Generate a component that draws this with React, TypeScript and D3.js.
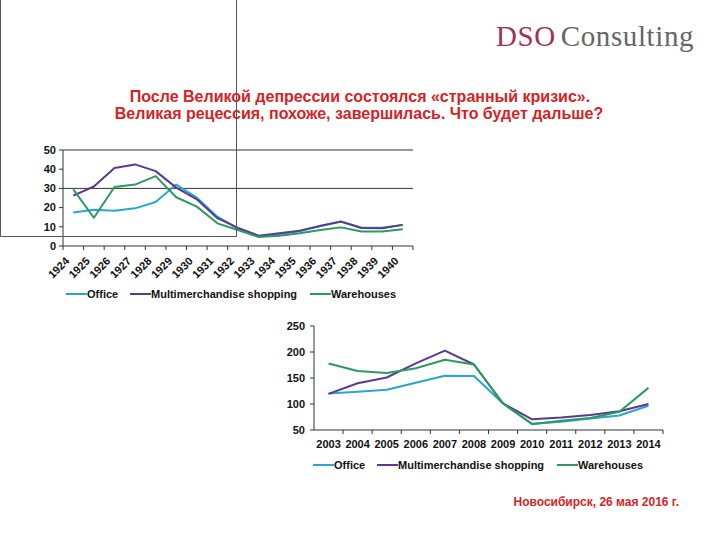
import React from "react";
import * as d3 from "d3";

const years1 = ["1924","1925","1926","1927","1928","1929","1930","1931","1932","1933","1934","1935","1936","1937","1938","1939","1940"];
const office1 = [17.4, 18.9, 18.4, 19.6, 22.9, 32, 25.2, 15.3, 9, 5, 6.3, 7.7, 10.5, 12.8, 9.5, 9.5, 11];
const multi1 = [26.2, 31, 40.6, 42.5, 39, 30.4, 24.3, 14.5, 9.4, 5.4, 6.6, 8, 10.4, 12.7, 9.4, 9.2, 11];
const ware1 = [29.5, 14.7, 30.7, 32, 36.4, 25.4, 20.5, 11.8, 8.3, 4.7, 5.4, 6.6, 8.3, 9.7, 7.5, 7.5, 8.7];
const ticks1 = [0, 10, 20, 30, 40, 50];
const grid1 = [30, 50];

const years2 = ["2003","2004","2005","2006","2007","2008","2009","2010","2011","2012","2013","2014"];
const office2 = [120, 123.7, 127.5, 141, 154.4, 153.8, 101, 62, 66, 72, 78, 96.7];
const multi2 = [119.5, 139.8, 151, 178, 202.5, 176, 101, 70.5, 74, 79, 86, 100];
const ware2 = [178, 163.5, 159.6, 168.6, 185, 176, 101, 61, 68, 73, 85, 131];
const ticks2 = [50, 100, 150, 200, 250];

const seriesNames = ["Office", "Multimerchandise shopping", "Warehouses"];
const colors = ["#2aa6cc", "#5a3a8e", "#2a9a5e"];

const FONT = "'Liberation Sans', Arial, sans-serif";
const RED = "#d61f26";

function Legend({ y, xs }: { y: number; xs: number[] }) {
  return (
    <g>
      {seriesNames.map((n, i) => (
        <g key={n}>
          <line x1={xs[i]} x2={xs[i] + 21} y1={y} y2={y} stroke={colors[i]} strokeWidth={2} />
          <text x={xs[i] + 21} y={y} dy="0.35em" fontSize={11} fontWeight="bold" fill="#111" fontFamily={FONT}>{n}</text>
        </g>
      ))}
    </g>
  );
}

export default function App() {
  const x1 = d3.scaleBand<string>().domain(years1).range([63, 413]).padding(0);
  const y1 = d3.scaleLinear().domain([0, 50]).range([246, 150]);
  const line1 = (vals: number[]) =>
    d3.line<number>().x((_, i) => (x1(years1[i]) as number) + x1.bandwidth() / 2).y((v) => y1(v))(vals) as string;
  const x2 = d3.scaleBand<string>().domain(years2).range([314, 663]).padding(0);
  const y2 = d3.scaleLinear().domain([50, 250]).range([430, 326]);
  const line2 = (vals: number[]) =>
    d3.line<number>().x((_, i) => (x2(years2[i]) as number) + x2.bandwidth() / 2).y((v) => y2(v))(vals) as string;

  const series1 = [office1, multi1, ware1];
  const series2 = [office2, multi2, ware2];

  return (
    <svg width={720} height={540} style={{ position: "absolute", left: 0, top: 0, background: "#fff" }} fontFamily={FONT}>
      <rect x={0} y={0} width={720} height={540} fill="#fff" />

      {/* logo */}
      <text x={496} y={46} fontFamily="'Liberation Serif', 'Times New Roman', serif" fontSize={29} letterSpacing={0.6}>
        <tspan fill="#9e3550">DSO</tspan>
        <tspan fill="#666" dx={5}>Consulting</tspan>
      </text>

      {/* title */}
      <text x={360} y={101.5} textAnchor="middle" fontSize={16} fontWeight="bold" fill={RED}>После Великой депрессии состоялся «странный кризис».</text>
      <text x={359} y={118.5} textAnchor="middle" fontSize={16} fontWeight="bold" fill={RED}>Великая рецессия, похоже, завершилась. Что будет дальше?</text>

      {/* chart 1 */}
      <g>
        {grid1.map((g) => (
          <line key={g} x1={63} x2={413} y1={y1(g)} y2={y1(g)} stroke="#333" strokeWidth={1} />
        ))}
        <line x1={63} x2={63} y1={150} y2={246} stroke="#333" />
        <line x1={63} x2={413} y1={246} y2={246} stroke="#333" />
        {ticks1.map((t) => (
          <g key={t}>
            <line x1={59} x2={63} y1={y1(t)} y2={y1(t)} stroke="#333" />
            <text x={56} y={y1(t)} dy="0.35em" textAnchor="end" fontSize={11} fontWeight="bold" fill="#111">{t}</text>
          </g>
        ))}
        {years1.map((yr) => (
          <line key={yr} x1={x1(yr) as number} x2={x1(yr) as number} y1={246} y2={250} stroke="#333" />
        ))}
        <line x1={413} x2={413} y1={246} y2={250} stroke="#333" />
        {years1.map((yr) => {
          const cx = (x1(yr) as number) + x1.bandwidth() / 2;
          return (
            <text key={yr} transform={`translate(${cx - 6},${259}) rotate(-45)`} textAnchor="end" dy="0.35em" fontSize={11} fontWeight="bold" fill="#111">{yr}</text>
          );
        })}
        {series1.map((s, i) => (
          <path key={i} d={line1(s)} fill="none" stroke={colors[i]} strokeWidth={2} strokeLinejoin="round" />
        ))}
        <Legend y={294} xs={[66, 130, 310]} />
      </g>

      {/* odd frame */}
      <path d="M0.5,0 V236.5 H236.5 V0" fill="none" stroke="#555" strokeWidth={1} />

      {/* chart 2 */}
      <g>
        <line x1={314} x2={314} y1={326} y2={430} stroke="#333" />
        <line x1={314} x2={663} y1={430} y2={430} stroke="#333" />
        {ticks2.map((t) => (
          <g key={t}>
            <line x1={310} x2={314} y1={y2(t)} y2={y2(t)} stroke="#333" />
            <text x={305} y={y2(t)} dy="0.35em" textAnchor="end" fontSize={11} fontWeight="bold" fill="#111">{t}</text>
          </g>
        ))}
        {years2.map((yr) => (
          <line key={yr} x1={(x2(yr) as number) + x2.bandwidth()} x2={(x2(yr) as number) + x2.bandwidth()} y1={430} y2={434} stroke="#333" />
        ))}
        {years2.map((yr) => {
          const cx = (x2(yr) as number) + x2.bandwidth() / 2;
          return (
            <text key={yr} x={cx} y={444} dy="0.35em" textAnchor="middle" fontSize={11} fontWeight="bold" fill="#111">{yr}</text>
          );
        })}
        {series2.map((s, i) => (
          <path key={i} d={line2(s)} fill="none" stroke={colors[i]} strokeWidth={2} strokeLinejoin="round" />
        ))}
        <Legend y={465} xs={[313, 377, 557]} />
      </g>

      <text x={679} y={502} dy="0.35em" textAnchor="end" fontSize={12} fontWeight="bold" fill={RED}>Новосибирск, 26 мая 2016 г.</text>
    </svg>
  );
}
